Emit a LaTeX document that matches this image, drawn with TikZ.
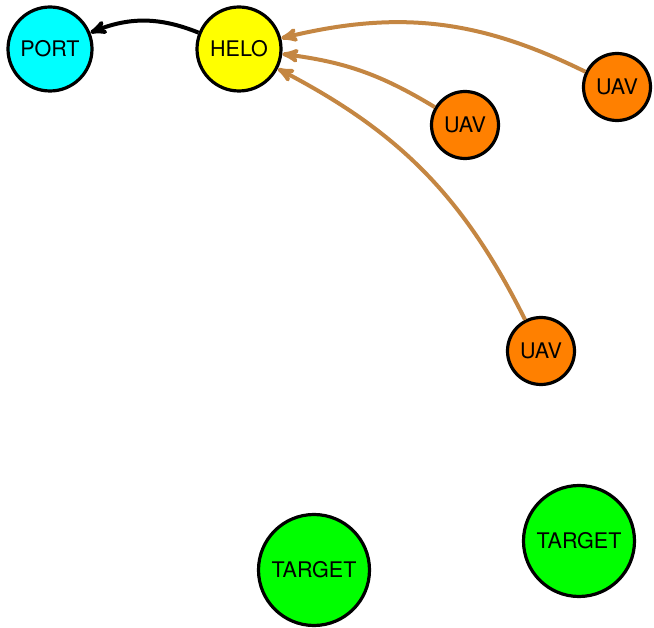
\documentclass[tikz,border=0pt]{standalone}
\usepackage{fontspec}
\setmainfont{TeX Gyre Heros}
\usetikzlibrary{arrows}

\definecolor{linkbrown}{RGB}{196,134,66}
\definecolor{portcyan}{RGB}{0,255,255}
\definecolor{heloyellow}{RGB}{255,255,0}
\definecolor{uavorange}{RGB}{255,128,0}
\definecolor{targetgreen}{RGB}{0,255,0}

\begin{document}
\begin{tikzpicture}
  [x=1pt,y=-1pt,
  unit/.style={circle,draw=black,line width=3.2pt,inner sep=0pt,font=\fontsize{21.5}{24}\selectfont},
  portdot/.style={unit,fill=portcyan,minimum size=84pt},
  helodot/.style={unit,fill=heloyellow,minimum size=84pt},
  uavdot/.style={unit,fill=uavorange,minimum size=67pt},
  targetdot/.style={unit,fill=targetgreen,minimum size=111pt},
  link/.style={-stealth',line width=4pt,linkbrown}]
  \useasboundingbox (0,0) rectangle (654,628);

  \node[portdot] (port) at (50,49) {PORT};
  \node[helodot] (helo) at (239,49) {HELO};

  \node[uavdot] (uav1) at (617,87) {UAV};
  \node[uavdot] (uav2) at (465,125) {UAV};
  \node[uavdot] (uav3) at (541,351) {UAV};

  \node[targetdot] (tgt1) at (314,570) {TARGET};
  \node[targetdot] (tgt2) at (579,541) {TARGET};

  \draw [-stealth',line width=4pt,black] (helo) to[bend right=22] (port);

  \draw [link] (uav1) to[bend right=20] (helo);
  \draw [link] (uav2) to[bend right=12] (helo);
  \draw [link] (uav3) to[bend right=18] (helo);
\end{tikzpicture}
\end{document}
